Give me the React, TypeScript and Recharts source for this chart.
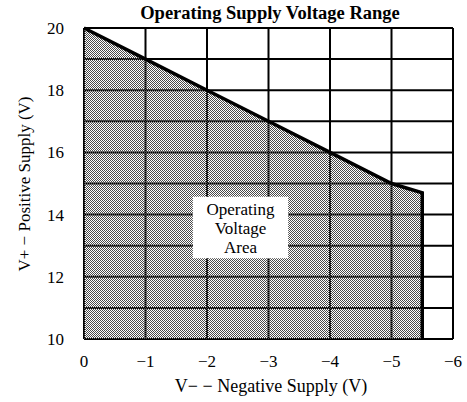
import { AreaChart, Area, XAxis, YAxis, CartesianGrid, ReferenceArea } from "recharts"

// boundary of the operating area: V- (x) vs V+ (y)
const negSupply = [0, -1, -2, -3, -4, -5, -5.5, -5.5]
const posSupply = [20, 19, 18, 17, 16, 15, 14.7, 10]

const xTicks = [0, -1, -2, -3, -4, -5, -6]
const yTicks = [10, 11, 12, 13, 14, 15, 16, 17, 18, 19, 20]

const boxLines = ["Operating", "Voltage", "Area"]

const data = negSupply.map((x, i) => ({ neg: x, pos: posSupply[i] }))

const FONT = "'Liberation Serif', 'Times New Roman', serif"

function BoxLabel({ viewBox }: any) {
  if (!viewBox) return null
  const cx = viewBox.x + viewBox.width / 2
  return (
    <text x={cx} y={viewBox.y + 18} textAnchor="middle" fontFamily={FONT} fontSize={17} fill="#000">
      {boxLines.map((l, i) => (
        <tspan key={l} x={cx} dy={i === 0 ? 0 : 19}>{l}</tspan>
      ))}
    </text>
  )
}

export default function App() {
  return (
    <div style={{ position: "absolute", left: 0, top: 0, background: "#fff" }}>
      <AreaChart width={467} height={402} data={data} margin={{ top: 28, right: 14, bottom: 33, left: 0 }}>
        <defs>
          <pattern id="dots" width={2} height={2} patternUnits="userSpaceOnUse">
            <rect x={0} y={0} width={1} height={1} fill="#4a4a4a" />
            <rect x={1} y={1} width={1} height={1} fill="#4a4a4a" />
          </pattern>
        </defs>
        <CartesianGrid stroke="#000" strokeWidth={2} />
        <XAxis
          dataKey="neg" type="number" domain={[-6, 0]} reversed ticks={xTicks} height={30}
          tickFormatter={(v: number) => (v === 0 ? "0" : "\u2212" + Math.abs(v))}
          tick={{ fontSize: 17, fill: "#000", fontFamily: FONT }}
          tickLine={false} axisLine={false} tickMargin={10}
        />
        <YAxis
          type="number" domain={[10, 20]} ticks={yTicks} width={84}
          tickFormatter={(v: number) => (v % 2 === 0 ? String(v) : "")}
          tick={{ fontSize: 17, fill: "#000", fontFamily: FONT }}
          tickLine={false} axisLine={false} tickMargin={14}
        />
        <Area
          dataKey="pos" type="linear" baseValue={10} stroke="#000" strokeWidth={3.5}
          fill="url(#dots)" fillOpacity={1} isAnimationActive={false} dot={false} activeDot={false}
        />
        <ReferenceArea
          x1={-1.77} x2={-3.32} y1={12.6} y2={14.57}
          fill="#fff" fillOpacity={1} stroke="none" label={<BoxLabel />}
        />
        <text x={270} y={19} textAnchor="middle" fontFamily={FONT} fontSize={18.5} fontWeight="bold" fill="#000">
          Operating Supply Voltage Range
        </text>
        <text x={271} y={392} textAnchor="middle" fontFamily={FONT} fontSize={18} fill="#000">
          V{"\u2212"} {"\u2212"} Negative Supply (V)
        </text>
        <text x={30} y={184} textAnchor="middle" fontFamily={FONT} fontSize={17} fill="#000" transform="rotate(-90 30 184)">
          V+ {"\u2212"} Positive Supply (V)
        </text>
      </AreaChart>
    </div>
  )
}
